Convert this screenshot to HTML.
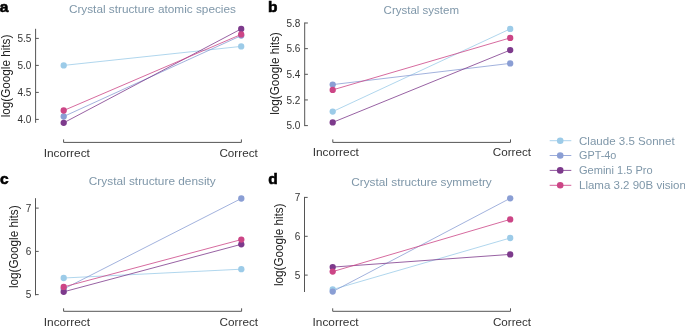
<!DOCTYPE html>
<html><head><meta charset="utf-8"><style>
html,body{margin:0;padding:0;background:#fff;}
body{width:685px;height:326px;overflow:hidden;position:relative;}
svg{position:absolute;left:0;top:0;will-change:transform;}
text{font-family:"Liberation Sans",sans-serif;}
</style></head><body>
<svg width="685" height="326" viewBox="0 0 685 326">

<text x="-0.2" y="11.9" font-size="15.5" font-weight="bold" fill="#000" stroke="#000" stroke-width="0.6">a</text>
<text x="152.4" y="13.0" font-size="11.6" fill="#7f97a9" text-anchor="middle" textLength="167.0" lengthAdjust="spacingAndGlyphs">Crystal structure atomic species</text>
<line x1="35.6" y1="29.3" x2="35.6" y2="122.3" stroke="#555" stroke-width="1" stroke-linecap="square"/>
<line x1="35.6" y1="38.4" x2="38.800000000000004" y2="38.4" stroke="#555" stroke-width="1"/>
<text x="31.3" y="41.9" font-size="10" fill="#333" text-anchor="end">5.5</text>
<line x1="35.6" y1="65.4" x2="38.800000000000004" y2="65.4" stroke="#555" stroke-width="1"/>
<text x="31.3" y="68.9" font-size="10" fill="#333" text-anchor="end">5.0</text>
<line x1="35.6" y1="92.4" x2="38.800000000000004" y2="92.4" stroke="#555" stroke-width="1"/>
<text x="31.3" y="95.9" font-size="10" fill="#333" text-anchor="end">4.5</text>
<line x1="35.6" y1="119.4" x2="38.800000000000004" y2="119.4" stroke="#555" stroke-width="1"/>
<text x="31.3" y="122.9" font-size="10" fill="#333" text-anchor="end">4.0</text>
<text transform="translate(9.6,76.0) rotate(-90)" x="0" y="0" font-size="12" fill="#222" text-anchor="middle" textLength="82.6" lengthAdjust="spacingAndGlyphs">log(Google hits)</text>
<line x1="63.7" y1="65.4" x2="241.2" y2="46.4" stroke="#9ccbe8" stroke-width="0.8"/>
<line x1="63.7" y1="116.5" x2="241.2" y2="35.6" stroke="#8a9ed4" stroke-width="0.8"/>
<line x1="63.7" y1="122.8" x2="241.2" y2="28.9" stroke="#7d3a8c" stroke-width="0.8"/>
<line x1="63.7" y1="110.5" x2="241.2" y2="34.4" stroke="#cc4586" stroke-width="0.8"/>
<circle cx="63.7" cy="65.4" r="3.15" fill="#9ccbe8"/>
<circle cx="241.2" cy="46.4" r="3.15" fill="#9ccbe8"/>
<circle cx="63.7" cy="116.5" r="3.15" fill="#8a9ed4"/>
<circle cx="241.2" cy="35.6" r="3.15" fill="#8a9ed4"/>
<circle cx="63.7" cy="122.8" r="3.15" fill="#7d3a8c"/>
<circle cx="241.2" cy="28.9" r="3.15" fill="#7d3a8c"/>
<circle cx="63.7" cy="110.5" r="3.15" fill="#cc4586"/>
<circle cx="241.2" cy="34.4" r="3.15" fill="#cc4586"/>
<path d="M63.6 139.4 V142.4 H241.4 V139.4" fill="none" stroke="#555" stroke-width="1"/>
<text x="66.8" y="156.5" font-size="11.5" fill="#333" text-anchor="middle" textLength="46.3" lengthAdjust="spacingAndGlyphs">Incorrect</text>
<text x="238.6" y="156.5" font-size="11.5" fill="#333" text-anchor="middle" textLength="38.3" lengthAdjust="spacingAndGlyphs">Correct</text>
<text x="267.9" y="11.8" font-size="15.5" font-weight="bold" fill="#000" stroke="#000" stroke-width="0.6">b</text>
<text x="421.3" y="13.6" font-size="11.6" fill="#7f97a9" text-anchor="middle" textLength="75.4" lengthAdjust="spacingAndGlyphs">Crystal system</text>
<line x1="304.7" y1="23.0" x2="304.7" y2="125.6" stroke="#555" stroke-width="1" stroke-linecap="square"/>
<line x1="304.7" y1="23.0" x2="307.9" y2="23.0" stroke="#555" stroke-width="1"/>
<text x="300.4" y="26.5" font-size="10" fill="#333" text-anchor="end">5.8</text>
<line x1="304.7" y1="48.65" x2="307.9" y2="48.65" stroke="#555" stroke-width="1"/>
<text x="300.4" y="52.1" font-size="10" fill="#333" text-anchor="end">5.6</text>
<line x1="304.7" y1="74.3" x2="307.9" y2="74.3" stroke="#555" stroke-width="1"/>
<text x="300.4" y="77.8" font-size="10" fill="#333" text-anchor="end">5.4</text>
<line x1="304.7" y1="99.95" x2="307.9" y2="99.95" stroke="#555" stroke-width="1"/>
<text x="300.4" y="103.5" font-size="10" fill="#333" text-anchor="end">5.2</text>
<line x1="304.7" y1="125.6" x2="307.9" y2="125.6" stroke="#555" stroke-width="1"/>
<text x="300.4" y="129.1" font-size="10" fill="#333" text-anchor="end">5.0</text>
<text transform="translate(279.0,73.55) rotate(-90)" x="0" y="0" font-size="12" fill="#222" text-anchor="middle" textLength="82.6" lengthAdjust="spacingAndGlyphs">log(Google hits)</text>
<line x1="332.7" y1="111.6" x2="510.2" y2="28.9" stroke="#9ccbe8" stroke-width="0.8"/>
<line x1="332.7" y1="84.6" x2="510.2" y2="63.4" stroke="#8a9ed4" stroke-width="0.8"/>
<line x1="332.7" y1="122.4" x2="510.2" y2="50.1" stroke="#7d3a8c" stroke-width="0.8"/>
<line x1="332.7" y1="89.9" x2="510.2" y2="37.9" stroke="#cc4586" stroke-width="0.8"/>
<circle cx="332.7" cy="111.6" r="3.15" fill="#9ccbe8"/>
<circle cx="510.2" cy="28.9" r="3.15" fill="#9ccbe8"/>
<circle cx="332.7" cy="84.6" r="3.15" fill="#8a9ed4"/>
<circle cx="510.2" cy="63.4" r="3.15" fill="#8a9ed4"/>
<circle cx="332.7" cy="122.4" r="3.15" fill="#7d3a8c"/>
<circle cx="510.2" cy="50.1" r="3.15" fill="#7d3a8c"/>
<circle cx="332.7" cy="89.9" r="3.15" fill="#cc4586"/>
<circle cx="510.2" cy="37.9" r="3.15" fill="#cc4586"/>
<path d="M332.8 139.4 V142.4 H510.5 V139.4" fill="none" stroke="#555" stroke-width="1"/>
<text x="335.8" y="156.2" font-size="11.5" fill="#333" text-anchor="middle" textLength="46.3" lengthAdjust="spacingAndGlyphs">Incorrect</text>
<text x="511.9" y="156.2" font-size="11.5" fill="#333" text-anchor="middle" textLength="38.3" lengthAdjust="spacingAndGlyphs">Correct</text>
<text x="-0.1" y="183.7" font-size="15.5" font-weight="bold" fill="#000" stroke="#000" stroke-width="0.6">c</text>
<text x="152.3" y="184.8" font-size="11.6" fill="#7f97a9" text-anchor="middle" textLength="127.0" lengthAdjust="spacingAndGlyphs">Crystal structure density</text>
<line x1="35.5" y1="198.7" x2="35.5" y2="294.8" stroke="#555" stroke-width="1" stroke-linecap="square"/>
<line x1="35.5" y1="208.1" x2="38.7" y2="208.1" stroke="#555" stroke-width="1"/>
<text x="31.2" y="211.6" font-size="10" fill="#333" text-anchor="end">7</text>
<line x1="35.5" y1="251.4" x2="38.7" y2="251.4" stroke="#555" stroke-width="1"/>
<text x="31.2" y="254.9" font-size="10" fill="#333" text-anchor="end">6</text>
<line x1="35.5" y1="294.6" x2="38.7" y2="294.6" stroke="#555" stroke-width="1"/>
<text x="31.2" y="298.1" font-size="10" fill="#333" text-anchor="end">5</text>
<text transform="translate(17.8,246.75) rotate(-90)" x="0" y="0" font-size="12" fill="#222" text-anchor="middle" textLength="82.6" lengthAdjust="spacingAndGlyphs">log(Google hits)</text>
<line x1="63.7" y1="278.0" x2="241.3" y2="269.2" stroke="#9ccbe8" stroke-width="0.8"/>
<line x1="63.7" y1="289.0" x2="241.3" y2="198.5" stroke="#8a9ed4" stroke-width="0.8"/>
<line x1="63.7" y1="291.8" x2="241.3" y2="244.3" stroke="#7d3a8c" stroke-width="0.8"/>
<line x1="63.7" y1="286.9" x2="241.3" y2="239.6" stroke="#cc4586" stroke-width="0.8"/>
<circle cx="63.7" cy="278.0" r="3.15" fill="#9ccbe8"/>
<circle cx="241.3" cy="269.2" r="3.15" fill="#9ccbe8"/>
<circle cx="63.7" cy="289.0" r="3.15" fill="#8a9ed4"/>
<circle cx="241.3" cy="198.5" r="3.15" fill="#8a9ed4"/>
<circle cx="63.7" cy="291.8" r="3.15" fill="#7d3a8c"/>
<circle cx="241.3" cy="244.3" r="3.15" fill="#7d3a8c"/>
<circle cx="63.7" cy="286.9" r="3.15" fill="#cc4586"/>
<circle cx="241.3" cy="239.6" r="3.15" fill="#cc4586"/>
<path d="M63.6 308.3 V311.3 H241.6 V308.3" fill="none" stroke="#555" stroke-width="1"/>
<text x="66.9" y="326.1" font-size="11.5" fill="#333" text-anchor="middle" textLength="46.3" lengthAdjust="spacingAndGlyphs">Incorrect</text>
<text x="238.8" y="326.1" font-size="11.5" fill="#333" text-anchor="middle" textLength="38.5" lengthAdjust="spacingAndGlyphs">Correct</text>
<text x="268.3" y="183.7" font-size="15.5" font-weight="bold" fill="#000" stroke="#000" stroke-width="0.6">d</text>
<text x="421.5" y="185.9" font-size="11.6" fill="#7f97a9" text-anchor="middle" textLength="140.6" lengthAdjust="spacingAndGlyphs">Crystal structure symmetry</text>
<line x1="304.5" y1="197.4" x2="304.5" y2="291.5" stroke="#555" stroke-width="1" stroke-linecap="square"/>
<line x1="304.5" y1="197.4" x2="307.7" y2="197.4" stroke="#555" stroke-width="1"/>
<text x="300.2" y="200.9" font-size="10" fill="#333" text-anchor="end">7</text>
<line x1="304.5" y1="236.3" x2="307.7" y2="236.3" stroke="#555" stroke-width="1"/>
<text x="300.2" y="239.8" font-size="10" fill="#333" text-anchor="end">6</text>
<line x1="304.5" y1="275.1" x2="307.7" y2="275.1" stroke="#555" stroke-width="1"/>
<text x="300.2" y="278.6" font-size="10" fill="#333" text-anchor="end">5</text>
<text transform="translate(283.1,244.8) rotate(-90)" x="0" y="0" font-size="12" fill="#222" text-anchor="middle" textLength="82.6" lengthAdjust="spacingAndGlyphs">log(Google hits)</text>
<line x1="332.7" y1="289.5" x2="510.2" y2="238.0" stroke="#9ccbe8" stroke-width="0.8"/>
<line x1="332.7" y1="291.6" x2="510.2" y2="198.3" stroke="#8a9ed4" stroke-width="0.8"/>
<line x1="332.7" y1="267.1" x2="510.2" y2="254.4" stroke="#7d3a8c" stroke-width="0.8"/>
<line x1="332.7" y1="271.6" x2="510.2" y2="219.4" stroke="#cc4586" stroke-width="0.8"/>
<circle cx="332.7" cy="289.5" r="3.15" fill="#9ccbe8"/>
<circle cx="510.2" cy="238.0" r="3.15" fill="#9ccbe8"/>
<circle cx="332.7" cy="291.6" r="3.15" fill="#8a9ed4"/>
<circle cx="510.2" cy="198.3" r="3.15" fill="#8a9ed4"/>
<circle cx="332.7" cy="267.1" r="3.15" fill="#7d3a8c"/>
<circle cx="510.2" cy="254.4" r="3.15" fill="#7d3a8c"/>
<circle cx="332.7" cy="271.6" r="3.15" fill="#cc4586"/>
<circle cx="510.2" cy="219.4" r="3.15" fill="#cc4586"/>
<path d="M332.7 308.3 V311.3 H510.5 V308.3" fill="none" stroke="#555" stroke-width="1"/>
<text x="335.6" y="326.1" font-size="11.5" fill="#333" text-anchor="middle" textLength="46.1" lengthAdjust="spacingAndGlyphs">Incorrect</text>
<text x="512.0" y="326.1" font-size="11.5" fill="#333" text-anchor="middle" textLength="38.2" lengthAdjust="spacingAndGlyphs">Correct</text>
<line x1="549.7" y1="140.7" x2="571.3" y2="140.7" stroke="#9ccbe8" stroke-width="0.85"/>
<circle cx="560.2" cy="140.7" r="3.3" fill="#9ccbe8"/>
<text x="579.0" y="144.6" font-size="11.5" fill="#7f97a9" textLength="95.6" lengthAdjust="spacingAndGlyphs">Claude 3.5 Sonnet</text>
<line x1="549.7" y1="155.5" x2="571.3" y2="155.5" stroke="#8a9ed4" stroke-width="0.85"/>
<circle cx="560.2" cy="155.5" r="3.3" fill="#8a9ed4"/>
<text x="579.0" y="159.4" font-size="11.5" fill="#7f97a9" textLength="37.4" lengthAdjust="spacingAndGlyphs">GPT-4o</text>
<line x1="549.7" y1="170.4" x2="571.3" y2="170.4" stroke="#7d3a8c" stroke-width="0.85"/>
<circle cx="560.2" cy="170.4" r="3.3" fill="#7d3a8c"/>
<text x="579.0" y="174.3" font-size="11.5" fill="#7f97a9" textLength="73.6" lengthAdjust="spacingAndGlyphs">Gemini 1.5 Pro</text>
<line x1="549.7" y1="185.3" x2="571.3" y2="185.3" stroke="#cc4586" stroke-width="0.85"/>
<circle cx="560.2" cy="185.3" r="3.3" fill="#cc4586"/>
<text x="579.0" y="189.2" font-size="11.5" fill="#7f97a9" textLength="106.8" lengthAdjust="spacingAndGlyphs">Llama 3.2 90B vision</text>
</svg>
</body></html>
